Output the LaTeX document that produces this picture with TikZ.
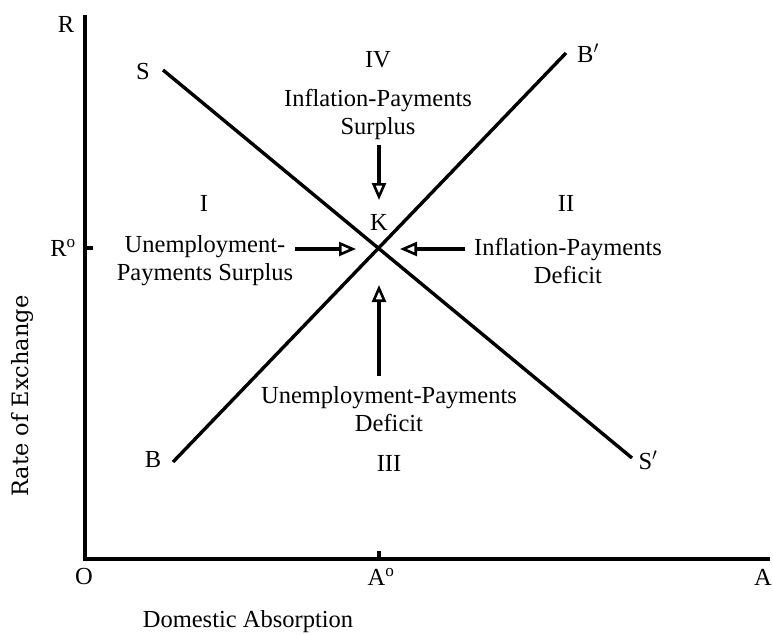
\documentclass[tikz,border=0pt]{standalone}
\usepackage{fontspec}
\setmainfont{Liberation Serif}
\newfontfamily\axfont{DejaVu Serif}
\usetikzlibrary{arrows.meta}
\begin{document}
\begin{tikzpicture}[x=1pt,y=-1pt,
  lbl/.style={font=\fontsize{24.5}{28}\selectfont, inner sep=0pt, align=center},
  axlbl/.style={font=\axfont\fontsize{22.5}{26}\selectfont, inner sep=0pt},
  ln/.style={line width=3.4pt},
  fl/.style={line width=3.6pt, -{Triangle[open,length=17pt,width=14pt,line width=2.6pt]}}
]
\useasboundingbox (0,0) rectangle (773,634);
\fill[white] (0,0) rectangle (773,634);
% axes
\coordinate (O) at (85,559);
\coordinate (Rtop) at (85,15);
\coordinate (Aend) at (770,559);
\draw[ln] (Rtop) -- (O) -- (Aend);
\coordinate (A0b) at (379,559);
\coordinate (A0t) at (379,551);
\draw[ln] (A0b) -- (A0t);
\coordinate (R0l) at (85,248);
\coordinate (R0r) at (93,248);
\draw[ln] (R0l) -- (R0r);
% curves
\coordinate (Sa) at (163,70);
\coordinate (Sb) at (632,458);
\coordinate (Ba) at (173,462);
\coordinate (Bb) at (566,53);
\draw[ln] (Sa) -- (Sb);
\draw[ln] (Ba) -- (Bb);
% labels
\node[lbl] (lR) at (66,24) {R};
\node[lbl] (lS) at (143,72) {S};
\node[lbl] (lSp) at (648,460) {S$'$};
\node[lbl] (lB) at (153,460) {B};
\node[lbl] (lBp) at (588,53) {B$'$};
\node[lbl] (lIV) at (378,60) {IV};
\node[lbl] (lI) at (204,203) {I};
\node[lbl] (lII) at (566,203) {II};
\node[lbl] (lIII) at (389,463) {III};
\node[lbl] (lK) at (379,222) {K};
\node[lbl] (lR0) at (63,248) {R\textsuperscript{o}};
\node[lbl] (lO) at (84,577) {O};
\node[lbl] (lA0) at (381,577) {A\textsuperscript{o}};
\node[lbl] (lA) at (763,577) {A};
\node[lbl] (tIV) at (378,114) {Inflation-Payments\\Surplus};
\node[lbl] (tI) at (205,261) {Unemployment-\\Payments Surplus};
\node[lbl] (tII) at (568,261) {Inflation-Payments\\Deficit};
\node[lbl] (tIII) at (389,409) {Unemployment-Payments\\Deficit};
\node[lbl] (xl) at (248,622) {Domestic Absorption};
\node[axlbl, rotate=90] (yl) at (22,396) {Rate of Exchange};
% arrows
\coordinate (d1) at (379,145);
\coordinate (d2) at (379,200);
\draw[fl] (d1) -- (d2);
\coordinate (r1) at (295,249);
\coordinate (r2) at (356,249);
\draw[fl] (r1) -- (r2);
\coordinate (l1) at (465,249);
\coordinate (l2) at (400,249);
\draw[fl] (l1) -- (l2);
\coordinate (u1) at (379,376);
\coordinate (u2) at (379,285);
\draw[fl] (u1) -- (u2);
\end{tikzpicture}
\end{document}
